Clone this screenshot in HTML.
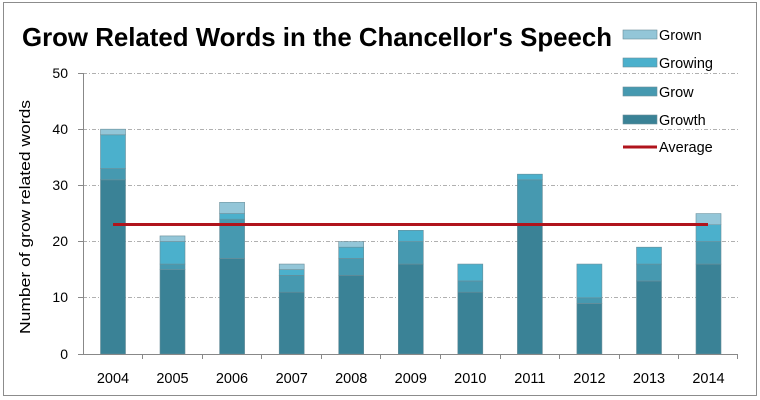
<!DOCTYPE html>
<html><head><meta charset="utf-8"><style>
html,body{margin:0;padding:0;background:#fff;}
svg{display:block;font-family:"Liberation Sans",sans-serif;}
</style></head><body>
<svg width="760" height="400" viewBox="0 0 760 400">
<rect x="3.5" y="2.5" width="753" height="393" fill="#fff" stroke="#8c8c8c"/>
<text x="22" y="46" font-size="26" font-weight="bold" fill="#000" textLength="590" lengthAdjust="spacingAndGlyphs">Grow Related Words in the Chancellor's Speech</text>
<g stroke="#b0b0b0" stroke-dasharray="4,2,1,2" stroke-width="1">
<line x1="83" x2="738" y1="73.5" y2="73.5"/>
<line x1="83" x2="738" y1="129.5" y2="129.5"/>
<line x1="83" x2="738" y1="185.5" y2="185.5"/>
<line x1="83" x2="738" y1="241.5" y2="241.5"/>
<line x1="83" x2="738" y1="297.5" y2="297.5"/>
</g>
<g font-size="14" fill="#000" text-anchor="end">
<text x="68" y="78">50</text><text x="68" y="134">40</text><text x="68" y="190">30</text>
<text x="68" y="246">20</text><text x="68" y="302">10</text><text x="68" y="359">0</text>
</g>
<text transform="translate(30,217) rotate(-90)" font-size="15" text-anchor="middle" textLength="234" lengthAdjust="spacingAndGlyphs">Number of grow related  words</text>
<g transform="translate(0,354) scale(1,-5.62)" stroke="#6a8e99" stroke-width="0.6">
<g fill="#3a8296">
<rect x="100.5" y="0" width="25" height="31" vector-effect="non-scaling-stroke"/>
<rect x="160" y="0" width="25" height="15" vector-effect="non-scaling-stroke"/>
<rect x="219.6" y="0" width="25" height="17" vector-effect="non-scaling-stroke"/>
<rect x="279.2" y="0" width="25" height="11" vector-effect="non-scaling-stroke"/>
<rect x="338.7" y="0" width="25" height="14" vector-effect="non-scaling-stroke"/>
<rect x="398.3" y="0" width="25" height="16" vector-effect="non-scaling-stroke"/>
<rect x="457.8" y="0" width="25" height="11" vector-effect="non-scaling-stroke"/>
<rect x="517.4" y="0" width="25" height="23" vector-effect="non-scaling-stroke"/>
<rect x="576.9" y="0" width="25" height="9" vector-effect="non-scaling-stroke"/>
<rect x="636.5" y="0" width="25" height="13" vector-effect="non-scaling-stroke"/>
<rect x="696" y="0" width="25" height="16" vector-effect="non-scaling-stroke"/>
</g>
<g fill="#4699b0">
<rect x="100.5" y="31" width="25" height="2" vector-effect="non-scaling-stroke"/>
<rect x="160" y="15" width="25" height="1" vector-effect="non-scaling-stroke"/>
<rect x="219.6" y="17" width="25" height="7" vector-effect="non-scaling-stroke"/>
<rect x="279.2" y="11" width="25" height="3" vector-effect="non-scaling-stroke"/>
<rect x="338.7" y="14" width="25" height="3" vector-effect="non-scaling-stroke"/>
<rect x="398.3" y="16" width="25" height="4" vector-effect="non-scaling-stroke"/>
<rect x="457.8" y="11" width="25" height="2" vector-effect="non-scaling-stroke"/>
<rect x="517.4" y="23" width="25" height="8" vector-effect="non-scaling-stroke"/>
<rect x="576.9" y="9" width="25" height="1" vector-effect="non-scaling-stroke"/>
<rect x="636.5" y="13" width="25" height="3" vector-effect="non-scaling-stroke"/>
<rect x="696" y="16" width="25" height="4" vector-effect="non-scaling-stroke"/>
</g>
<g fill="#4bb0cc">
<rect x="100.5" y="33" width="25" height="6" vector-effect="non-scaling-stroke"/>
<rect x="160" y="16" width="25" height="4" vector-effect="non-scaling-stroke"/>
<rect x="219.6" y="24" width="25" height="1" vector-effect="non-scaling-stroke"/>
<rect x="279.2" y="14" width="25" height="1" vector-effect="non-scaling-stroke"/>
<rect x="338.7" y="17" width="25" height="2" vector-effect="non-scaling-stroke"/>
<rect x="398.3" y="20" width="25" height="2" vector-effect="non-scaling-stroke"/>
<rect x="457.8" y="13" width="25" height="3" vector-effect="non-scaling-stroke"/>
<rect x="517.4" y="31" width="25" height="1" vector-effect="non-scaling-stroke"/>
<rect x="576.9" y="10" width="25" height="6" vector-effect="non-scaling-stroke"/>
<rect x="636.5" y="16" width="25" height="3" vector-effect="non-scaling-stroke"/>
<rect x="696" y="20" width="25" height="3" vector-effect="non-scaling-stroke"/>
</g>
<g fill="#93c6d8">
<rect x="100.5" y="39" width="25" height="1" vector-effect="non-scaling-stroke"/>
<rect x="160" y="20" width="25" height="1" vector-effect="non-scaling-stroke"/>
<rect x="219.6" y="25" width="25" height="2" vector-effect="non-scaling-stroke"/>
<rect x="279.2" y="15" width="25" height="1" vector-effect="non-scaling-stroke"/>
<rect x="338.7" y="19" width="25" height="1" vector-effect="non-scaling-stroke"/>
<rect x="696" y="23" width="25" height="2" vector-effect="non-scaling-stroke"/>
</g>
</g>
<g stroke="#888" stroke-width="1">
<line x1="83.5" y1="73" x2="83.5" y2="354"/>
<line x1="78" y1="354.5" x2="738" y2="354.5"/>
<line x1="78" y1="73.5" x2="83" y2="73.5"/><line x1="78" y1="129.5" x2="83" y2="129.5"/>
<line x1="78" y1="185.5" x2="83" y2="185.5"/><line x1="78" y1="241.5" x2="83" y2="241.5"/>
<line x1="78" y1="297.5" x2="83" y2="297.5"/>
<line x1="142.5" y1="354" x2="142.5" y2="359"/><line x1="202.5" y1="354" x2="202.5" y2="359"/>
<line x1="261.5" y1="354" x2="261.5" y2="359"/><line x1="321.5" y1="354" x2="321.5" y2="359"/>
<line x1="380.5" y1="354" x2="380.5" y2="359"/><line x1="440.5" y1="354" x2="440.5" y2="359"/>
<line x1="500.5" y1="354" x2="500.5" y2="359"/><line x1="559.5" y1="354" x2="559.5" y2="359"/>
<line x1="619.5" y1="354" x2="619.5" y2="359"/><line x1="678.5" y1="354" x2="678.5" y2="359"/>
<line x1="737.5" y1="354" x2="737.5" y2="359"/>
</g>
<line x1="113" y1="224.5" x2="708" y2="224.5" stroke="#b0141c" stroke-width="3"/>
<g font-size="14.5" text-anchor="middle" fill="#000">
<text x="113" y="383">2004</text><text x="172.5" y="383">2005</text><text x="232" y="383">2006</text>
<text x="291.7" y="383">2007</text><text x="351.2" y="383">2008</text><text x="410.8" y="383">2009</text>
<text x="470.3" y="383">2010</text><text x="529.9" y="383">2011</text><text x="589.4" y="383">2012</text>
<text x="649" y="383">2013</text><text x="708.5" y="383">2014</text>
</g>
<g stroke="#6a8e99" stroke-width="0.6">
<rect x="623" y="30" width="34" height="9" fill="#93c6d8"/>
<rect x="623" y="58" width="34" height="9" fill="#4bb0cc"/>
<rect x="623" y="87" width="34" height="9" fill="#4699b0"/>
<rect x="623" y="115" width="34" height="9" fill="#3a8296"/>
</g>
<line x1="623" y1="147" x2="657" y2="147" stroke="#b0141c" stroke-width="3"/>
<g font-size="14.5" fill="#000">
<text x="659" y="40">Grown</text><text x="659" y="68">Growing</text>
<text x="659" y="97">Grow</text><text x="659" y="125">Growth</text>
<text x="659" y="152">Average</text>
</g>
</svg>
</body></html>
